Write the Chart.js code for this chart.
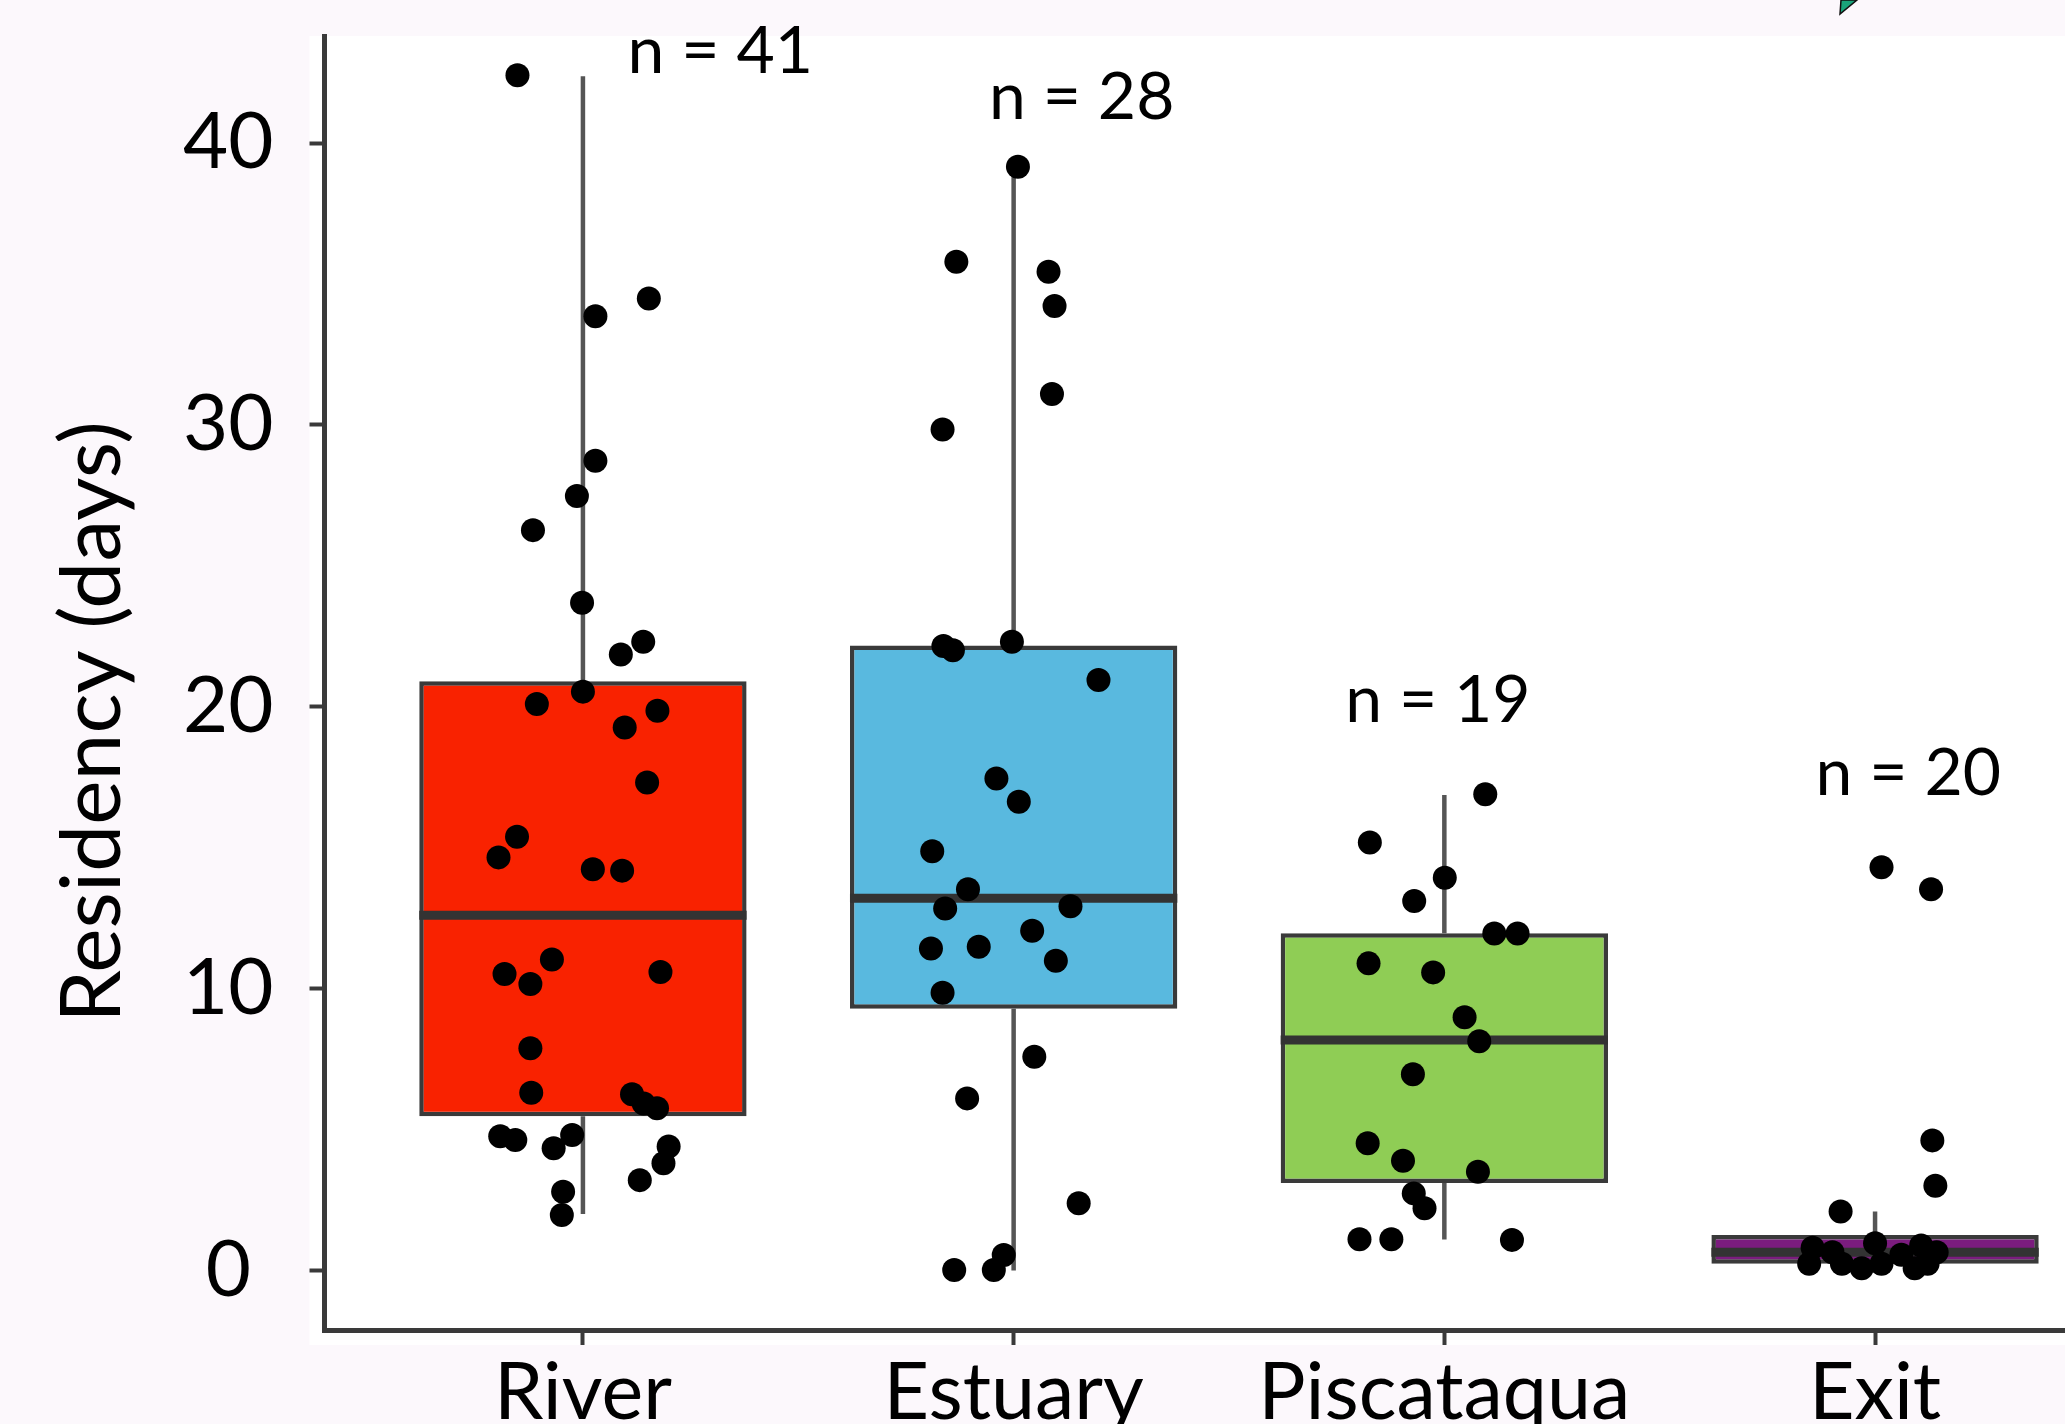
<!DOCTYPE html>
<html><head><meta charset="utf-8">
<script src="https://cdn.jsdelivr.net/npm/chart.js@4"></script>
<style>html,body{margin:0;padding:0;background:#fcf8fc;overflow:hidden}canvas{display:block}</style>
</head><body><canvas id="c" width="2065" height="1424"></canvas>
<script>
// ---- data ----
const categories = ['River', 'Estuary', 'Piscataqua', 'Exit'];
const q1 = [5.48, 9.29, 3.11, 0.24];
const median = [12.61, 13.21, 8.18, 0.65];
const q3 = [20.91, 22.18, 11.97, 1.26];
const whiskerLow = [2.01, 0.0, 1.10, 0.05];
const whiskerHigh = [42.37, 39.14, 16.87, 2.10];
const nLabels = ['n = 41', 'n = 28', 'n = 19', 'n = 20'];
const nLabelX = [1.319, 2.158, 2.985, 4.077];
const nLabelY = [42.49, 40.85, 19.47, 16.87];
const yTicks = [0, 10, 20, 30, 40];

const riverX = [0.848,1.029,1.153,1.029,0.986,0.884,0.998,1.140,1.088,1.000,0.893,1.173,1.097,1.149,0.847,0.804,1.023,1.091,0.928,0.818,0.878,1.180,0.878,0.880,1.114,1.141,1.172,0.808,0.843,0.932,0.975,1.199,1.187,1.132,0.954,0.951];
const riverY = [42.41,33.86,34.49,28.73,27.48,26.27,23.69,22.31,21.86,20.54,20.10,19.86,19.27,17.32,15.39,14.66,14.24,14.19,11.04,10.52,10.17,10.59,7.89,6.31,6.26,5.93,5.76,4.77,4.63,4.34,4.81,4.40,3.81,3.21,2.80,1.97];
const estuaryX = [2.010,1.867,2.081,2.095,2.089,1.835,1.837,1.859,1.996,2.197,1.960,2.012,1.811,1.894,1.841,2.132,2.043,1.808,1.919,2.098,1.835,2.048,1.892,2.151,1.862,1.954,1.977];
const estuaryY = [39.16,35.79,35.44,34.22,31.10,29.84,22.16,22.01,22.31,20.95,17.46,16.63,14.88,13.53,12.85,12.93,12.06,11.43,11.49,10.99,9.86,7.59,6.11,2.39,0.02,0.02,0.55];
const piscataquaX = [3.095,2.827,3.001,2.930,3.116,3.170,2.824,2.974,3.047,3.081,2.927,2.822,2.904,3.078,2.929,2.954,2.803,2.877,3.157];
const piscataquaY = [16.90,15.19,13.94,13.11,11.96,11.96,10.90,10.58,8.99,8.14,6.97,4.52,3.90,3.51,2.74,2.21,1.11,1.11,1.09];
const exitX = [4.015,4.130,4.133,4.140,3.920,3.847,3.855,3.901,3.923,3.969,4.000,4.015,4.061,4.092,4.107,4.122,4.143];
const exitY = [14.31,13.53,4.62,3.01,2.10,0.24,0.81,0.65,0.24,0.08,0.97,0.24,0.56,0.08,0.89,0.24,0.65];

// ---- styles ----
const boxColors = ['#f92200', '#59b9df', '#8fcd55', '#7b1c7e'];
const boxWidth = 0.76;
const FONT = 'Lato';

// ---- build datasets ----
const pts = [];
[[riverX, riverY], [estuaryX, estuaryY], [piscataquaX, piscataquaY], [exitX, exitY]].forEach(([xs, ys]) => {
  xs.forEach((x, i) => pts.push({ x: x, y: ys[i] }));
});
const boxes = categories.map((c, i) => ({ x: i + 1, y: [q1[i], q3[i]] }));
const medians = [];
categories.forEach((c, i) => {
  medians.push({ x: i + 1 - boxWidth / 2, y: median[i] });
  medians.push({ x: i + 1 + boxWidth / 2, y: median[i] });
  medians.push({ x: i + 1, y: null });
});
const whiskers = [];
categories.forEach((c, i) => {
  whiskers.push({ x: i + 1, y: whiskerLow[i] });
  whiskers.push({ x: i + 1, y: q1[i] });
  whiskers.push({ x: i + 1, y: null });
  whiskers.push({ x: i + 1, y: q3[i] });
  whiskers.push({ x: i + 1, y: whiskerHigh[i] });
  whiskers.push({ x: i + 1, y: null });
});

const decor = {
  id: 'decor',
  beforeDraw(chart) {
    const { ctx, chartArea: a } = chart;
    ctx.save();
    ctx.fillStyle = '#fcf8fc';
    ctx.fillRect(0, 0, chart.width, chart.height);
    ctx.fillStyle = '#ffffff';
    ctx.fillRect(a.left - 15, a.top, chart.width - a.left + 15, a.bottom - a.top + 15);
    ctx.beginPath();
    ctx.moveTo(1840, 14); ctx.lineTo(1841, 0); ctx.lineTo(1857, 0); ctx.closePath();
    ctx.fillStyle = '#1aa37a'; ctx.fill();
    ctx.strokeStyle = '#111'; ctx.lineWidth = 1.5; ctx.stroke();
    ctx.restore();
  },
  afterDraw(chart) {
    const { ctx } = chart;
    const xs = chart.scales.x, ys = chart.scales.y;
    ctx.save();
    ctx.fillStyle = '#000';
    ctx.font = '66px ' + FONT;
    ctx.textAlign = 'center';
    ctx.textBaseline = 'alphabetic';
    nLabels.forEach((t, i) => {
      ctx.fillText(t, xs.getPixelForValue(nLabelX[i]), ys.getPixelForValue(nLabelY[i]));
    });
    ctx.translate(120, 722);
    ctx.rotate(-Math.PI / 2);
    ctx.font = '84px ' + FONT;
    ctx.fillText('Residency (days)', 0, 0);
    ctx.restore();
  }
};

new Chart(document.getElementById('c'), {
  type: 'bar',
  data: {
    datasets: [
      { type: 'scatter', data: pts, backgroundColor: '#000', borderWidth: 0, pointRadius: 12, order: 0 },
      { type: 'line', data: medians, borderColor: '#333', borderWidth: 9, pointRadius: 0, spanGaps: false, borderCapStyle: 'butt', order: 1 },
      { type: 'bar', data: boxes, backgroundColor: boxColors, borderColor: '#3a3a3a', borderWidth: 4.5, borderSkipped: false,
        categoryPercentage: 1, barPercentage: boxWidth, order: 2 },
      { type: 'line', data: whiskers, borderColor: '#555', borderWidth: 4.5, pointRadius: 0, spanGaps: false, borderCapStyle: 'butt', order: 3 }
    ]
  },
  options: {
    responsive: false,
    devicePixelRatio: 1,
    animation: false,
    layout: { autoPadding: false, padding: { top: 36, left: 0, right: 0, bottom: 0 } },
    plugins: { legend: { display: false }, tooltip: { enabled: false } },
    scales: {
      x: {
        type: 'linear', min: 0.4, max: 4.441, offset: false,
        afterBuildTicks: s => { s.ticks = categories.map((c, i) => ({ value: i + 1 })); },
        afterFit: s => { s.height = 94; s.paddingLeft = 0; s.paddingRight = 0; },
        grid: { display: true, offset: false, drawOnChartArea: false, drawTicks: true, tickLength: 15, tickWidth: 4, tickColor: '#3a3a3a' },
        border: { display: true, width: 5, color: '#3a3a3a' },
        ticks: { font: { family: FONT, size: 79 }, color: '#000', padding: 1, autoSkip: false, maxRotation: 0,
          callback: v => categories[Math.round(v) - 1] || '' }
      },
      y: {
        type: 'linear', min: -2.107, max: 43.8,
        afterBuildTicks: s => { s.ticks = yTicks.map(v => ({ value: v })); },
        afterFit: s => { s.width = 324.5; s.paddingTop = 0; s.paddingBottom = 0; },
        grid: { display: true, offset: false, drawOnChartArea: false, drawTicks: true, tickLength: 15, tickWidth: 4, tickColor: '#3a3a3a' },
        border: { display: true, width: 5, color: '#3a3a3a' },
        ticks: { font: { family: FONT, size: 78 }, color: '#000', padding: 36, crossAlign: 'center', labelOffset: 0 }
      }
    }
  },
  plugins: [decor]
});
</script></body></html>
